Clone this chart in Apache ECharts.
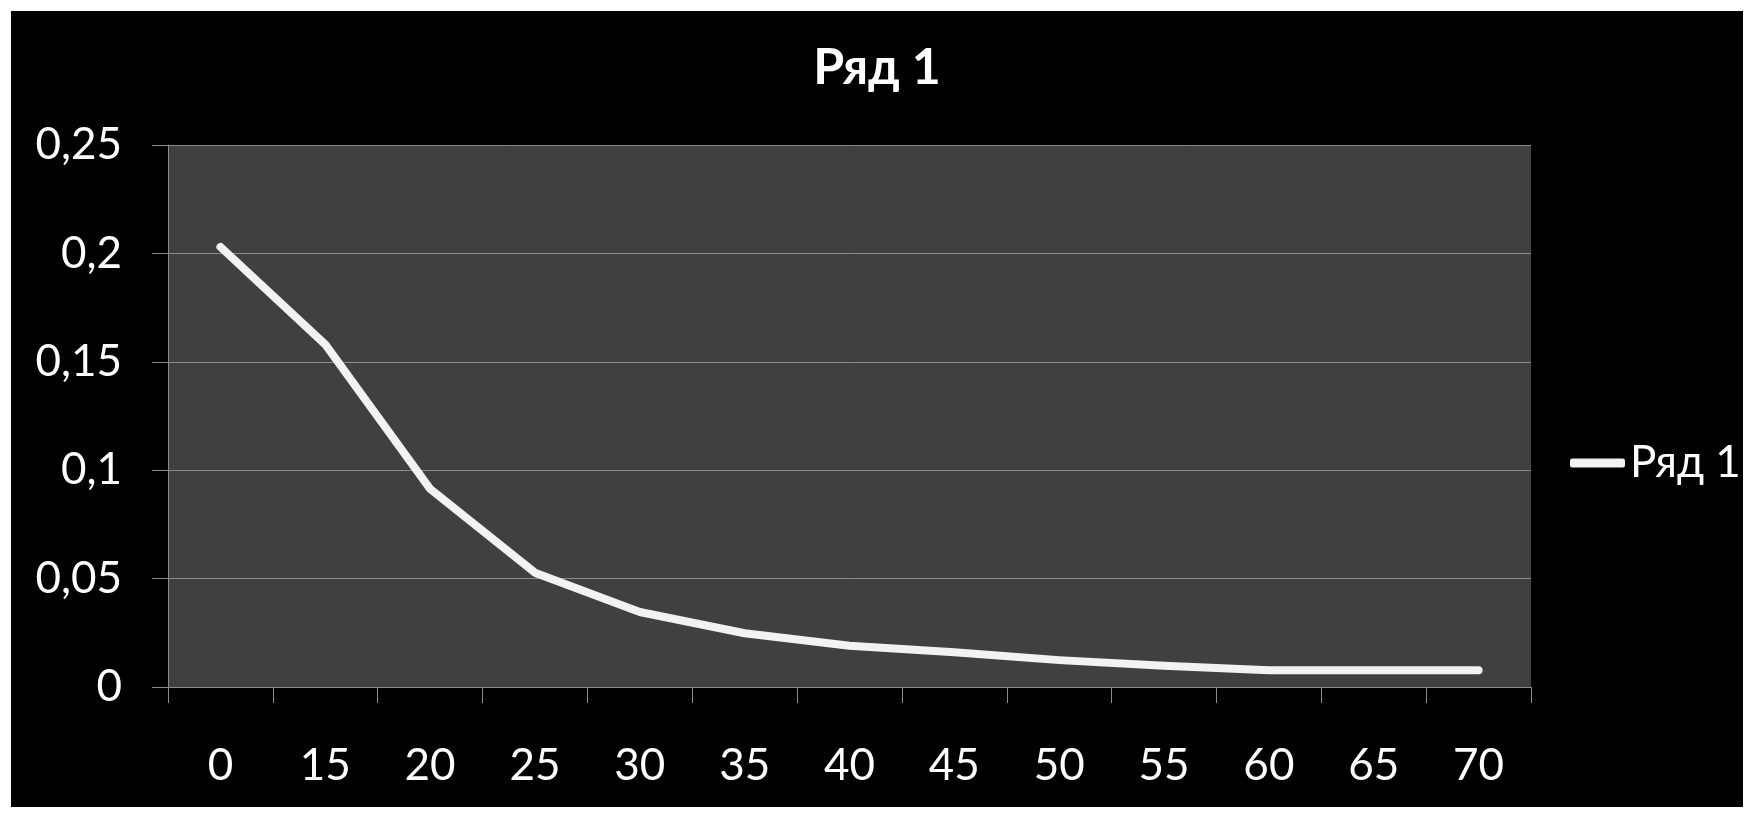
<!DOCTYPE html>
<html>
<head>
<meta charset="utf-8">
<script src="https://cdn.jsdelivr.net/npm/echarts@6/dist/echarts.min.js"></script>
<style>
html,body{margin:0;padding:0;background:#ffffff;width:1754px;height:815px;overflow:hidden;}
#chart{position:absolute;left:11px;top:11px;width:1732px;height:796px;background:#000;}
</style>
</head>
<body>
<div id="chart"></div>
<script>
const titleText = 'Ряд 1';
const seriesName = 'Ряд 1';
const categories = ['0','15','20','25','30','35','40','45','50','55','60','65','70'];
const values = [0.203, 0.158, 0.0914, 0.0527, 0.0346, 0.0248, 0.019, 0.016, 0.0124, 0.0098, 0.0077, 0.0077, 0.0077];
const yMin = 0, yMax = 0.25, yStep = 0.05;

const FONT = 'Lato';
const chart = echarts.init(document.getElementById('chart'));
chart.setOption({
  backgroundColor: '#000000',
  animation: false,
  title: {
    text: titleText,
    left: 'center',
    top: 27,
    padding: [5, 0, 5, 34],
    textStyle: {color: '#ffffff', fontFamily: FONT, fontWeight: 'bold', fontSize: 50}
  },
  legend: {
    data: [seriesName],
    left: 1559,
    top: 430,
    padding: 0,
    itemWidth: 55,
    itemHeight: 9,
    icon: 'roundRect',
    textStyle: {color: '#ffffff', fontFamily: FONT, fontSize: 44}
  },
  grid: {left: 157, top: 134, right: 212, bottom: 120, show: true, backgroundColor: '#404040', borderWidth: 0, containLabel: false},
  xAxis: {
    type: 'category',
    data: categories,
    boundaryGap: true,
    axisLine: {lineStyle: {color: '#8c8c8c', width: 1}},
    axisTick: {show: true, length: 16, lineStyle: {color: '#8c8c8c'}, alignWithLabel: false},
    axisLabel: {color: '#ffffff', fontFamily: FONT, fontSize: 44, margin: 57},
    splitLine: {show: false}
  },
  yAxis: {
    type: 'value',
    min: yMin, max: yMax, interval: yStep,
    axisLine: {show: true, lineStyle: {color: '#8c8c8c', width: 1}},
    axisTick: {show: true, length: 16, lineStyle: {color: '#8c8c8c'}},
    axisLabel: {color: '#ffffff', fontFamily: FONT, fontSize: 44, margin: 46,
      formatter: v => String(Math.round(v*100)/100).replace('.', ',')},
    splitLine: {show: true, lineStyle: {color: '#8c8c8c', width: 1}}
  },
  series: [{
    name: seriesName,
    type: 'line',
    data: values,
    showSymbol: false,
    symbol: 'none',
    lineStyle: {color: '#f2f2f2', width: 8, cap: 'round', join: 'round'},
    itemStyle: {color: '#f2f2f2'}
  }]
});
</script>
</body>
</html>
